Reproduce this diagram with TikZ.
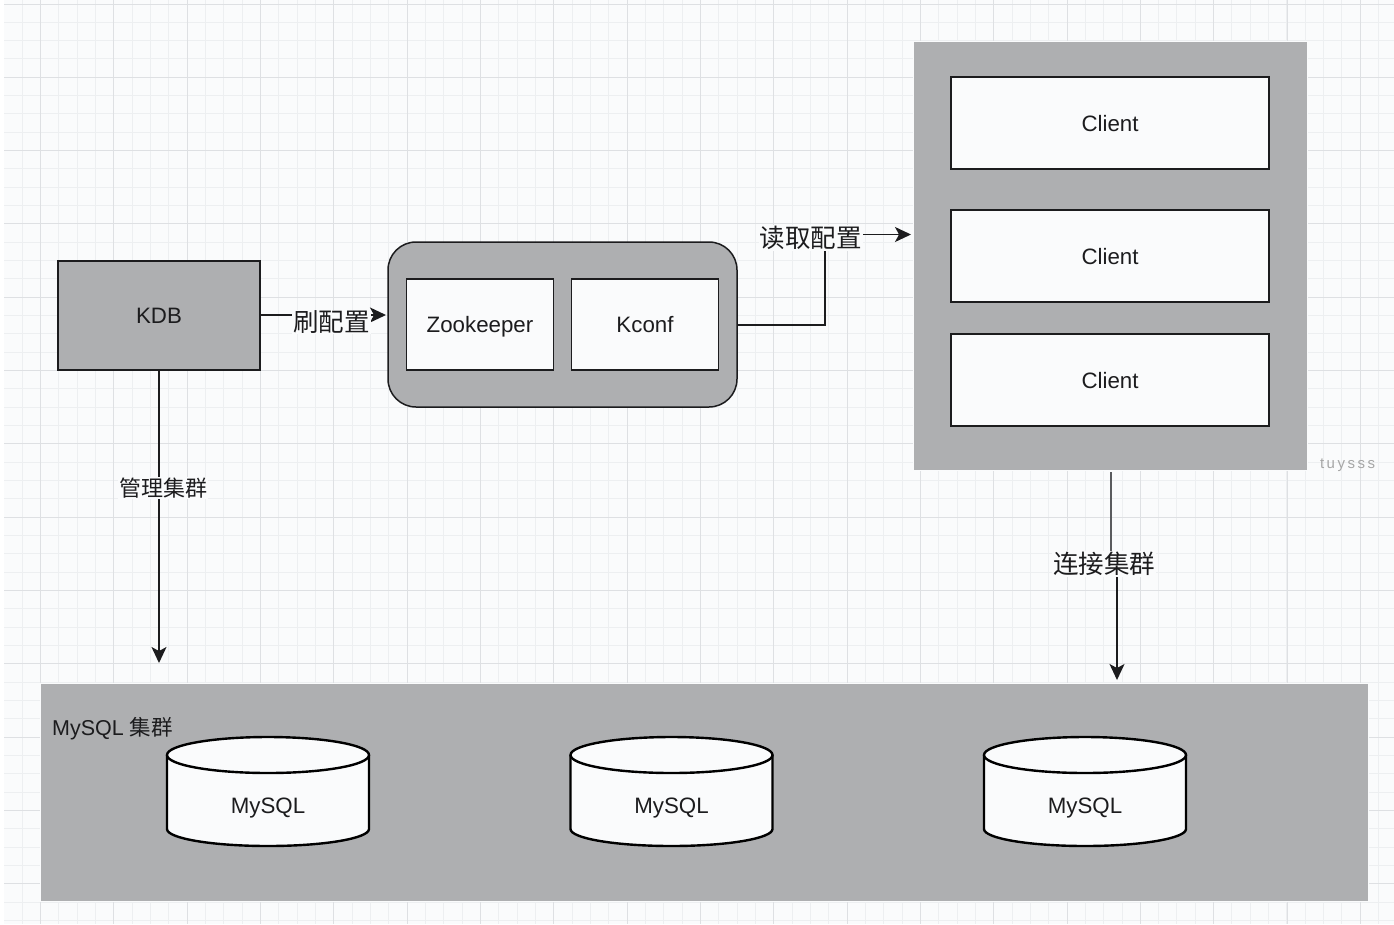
\documentclass[tikz,border=0pt]{standalone}
\usepackage{fontspec}
\setmainfont{Liberation Sans}
\newfontfamily\cjk{Noto Sans CJK SC}
\usetikzlibrary{arrows.meta}
\definecolor{pagebg}{HTML}{FAFBFC}
\definecolor{gridmin}{HTML}{EDEFF1}
\definecolor{gridmaj}{HTML}{DEE0E3}
\definecolor{panel}{HTML}{AEAFB1}
\definecolor{ink}{HTML}{1C1C1E}
\definecolor{softink}{HTML}{5A5B5E}
\tikzset{
  x=1pt,y=-1pt,
  px/.style={font=\fontsize{#1}{#1}\selectfont},
  gridminor/.style={draw=gridmin,line width=1pt},
  gridmajor/.style={draw=gridmaj,line width=1.5pt},
  panelbox/.style={fill=panel,draw=pagebg,line width=1.5pt,inner sep=0pt,outer sep=0pt},
  darkbox/.style={fill=panel,draw=ink,line width=1.5pt,inner sep=0pt,outer sep=0pt,text=ink,px=22.3,text height=16pt,text depth=0pt},
  whitebox/.style={fill=pagebg,draw=ink,line width=1.5pt,inner sep=0pt,outer sep=0pt,text=ink,px=22.3,text height=16pt,text depth=0pt},
  conn/.style={draw=ink,line width=1.5pt},
  softconn/.style={draw=softink,line width=2pt},
  arrowed/.style={conn,-{Stealth[length=16pt,width=15pt,inset=4pt]}},
  edgelabel/.style={fill=pagebg,inner sep=1pt,text=ink,font=\cjk\fontsize{#1}{#1}\selectfont},
  dbshape/.style={fill=pagebg,draw=black,line width=2.4pt},
  dblabel/.style={text=ink,inner sep=0pt,px=22.3,text height=16pt,text depth=0pt},
}
\begin{document}
\begin{tikzpicture}
\useasboundingbox (0,0) rectangle (1394,924);
\fill[white] (0,0) rectangle (1394,924);
\fill[pagebg] (4,0) rectangle (1394,924);
% grid
\foreach \i in {0,...,75}{
  \pgfmathsetmacro{\gx}{round(21.7+18.33*\i)+0.5}
  \draw[gridminor] (\gx,0) -- (\gx,924);
}
\foreach \i in {0,...,50}{
  \pgfmathsetmacro{\gy}{round(3.5+18.33*\i)+0.5}
  \draw[gridminor] (4,\gy) -- (1394,\gy);
}
\foreach \i in {0,...,18}{
  \pgfmathsetmacro{\gx}{round(40+73.33*\i)+0.5}
  \draw[gridmajor] (\gx,0) -- (\gx,924);
}
\foreach \i in {0,...,12}{
  \pgfmathsetmacro{\gy}{round(3.5+73.33*\i)+0.5}
  \draw[gridmajor] (4,\gy) -- (1394,\gy);
}
% panels
\node[panelbox,minimum width=394pt,minimum height=429pt] (clients) at (1110.5,256) {};
\node[panelbox,minimum width=1328pt,minimum height=218pt] (cluster) at (704.5,792.5) {};
\node[darkbox,minimum width=202pt,minimum height=109pt] (kdb) at (159,315.5) {KDB};
\node[darkbox,rounded corners=28pt,minimum width=349pt,minimum height=165pt] (conf) at (562.5,324.5) {};
\node[whitebox,minimum width=147pt,minimum height=91pt] (zk) at (480,324.5) {Zookeeper};
\node[whitebox,minimum width=147pt,minimum height=91pt] (kconf) at (645,324.5) {Kconf};
\node[whitebox,minimum width=318pt,minimum height=92pt] (c1) at (1110,123) {Client};
\node[whitebox,minimum width=318pt,minimum height=92pt] (c2) at (1110,256) {Client};
\node[whitebox,minimum width=318pt,minimum height=92pt] (c3) at (1110,380) {Client};
% connector end points
\coordinate (kdbtip) at (386,315);
\coordinate (mgmttip) at (159,663);
\coordinate (readtip) at (911,234.5);
\coordinate (connstart) at (1110.5,472);
\coordinate (connjog) at (1110.5,564);
\coordinate (connjog2) at (1117,564);
\coordinate (conntip) at (1117,680);
% connectors
\draw[arrowed] (kdb.east |- 0,315) -- (kdbtip);
\draw[arrowed] (kdb.south) -- (mgmttip);
\draw[arrowed] (conf.east |- 0,325) -- (825,325) -- (825,234.5) -- (readtip);
\draw[softconn] (connstart) -- (connjog);
\draw[arrowed] (connjog2) -- (conntip);
% labels
\node[edgelabel=25.5] (lshua) at (331.5,322) {刷配置};
\node[edgelabel=25.5] (lread) at (810.5,238) {读取配置};
\node[edgelabel=22] (lmgmt) at (163,488) {管理集群};
\node[edgelabel=25.5] (lconn) at (1104,564) {连接集群};
\node[anchor=west,inner sep=0pt,text=ink,text height=16pt,text depth=0pt,font=\fontsize{21.5}{21.5}\selectfont] (lcluster) at (52,727) {MySQL {\cjk 集群}};
\node[text=black!35,inner sep=0pt,text height=11pt,text depth=0pt,font=\fontsize{15}{15}\selectfont] (wm) at (1347.5,463) {t\,u\,y\,s\,s\,s};
% cylinders
\foreach \n/\cx in {db1/268,db2/671.5,db3/1085}{
  \begin{scope}[shift={(\cx,0)}]
    \draw[dbshape] (-101,755) -- (-101,829) arc[start angle=180,end angle=0,x radius=101,y radius=17] -- (101,755);
    \draw[dbshape] (0,755) ellipse[x radius=101,y radius=18];
    \node[dblabel] (\n) at (0,805) {MySQL};
  \end{scope}
}
\end{tikzpicture}
\end{document}
